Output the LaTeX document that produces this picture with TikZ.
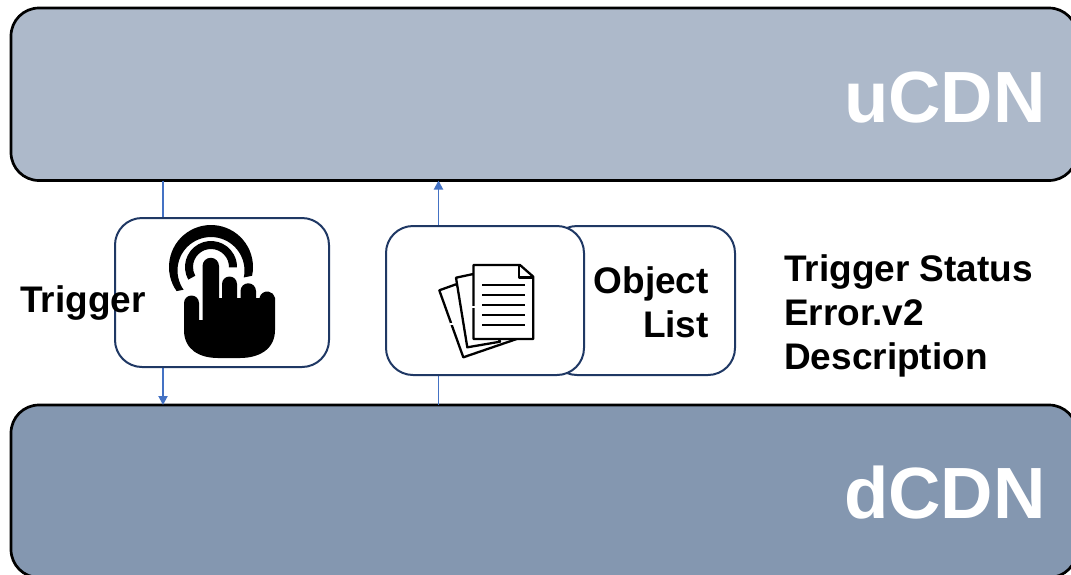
\documentclass[tikz,border=0pt]{standalone}
\usepackage{fontspec}
\setmainfont{Liberation Sans}
\usetikzlibrary{arrows.meta}
\definecolor{topband}{HTML}{ADB9CA}
\definecolor{lowband}{HTML}{8497B0}
\definecolor{cardedge}{HTML}{1F3864}
\definecolor{linkblue}{HTML}{4472C4}
\tikzset{
  x=1pt,y=1pt,
  band/.style={draw=black,line width=2.7pt,rounded corners=28pt,minimum width=1066pt,minimum height=172.5pt,inner sep=0pt,outer sep=0pt},
  card/.style={draw=cardedge,fill=white,line width=2pt,rounded corners=27pt,inner sep=0pt,outer sep=0pt},
  bigtext/.style={text=white,font=\bfseries\fontsize{72.6}{72}\selectfont,inner sep=0pt,anchor=base east},
  lab/.style={font=\bfseries\fontsize{37}{44.3}\selectfont,inner sep=0pt},
  link/.style={draw=linkblue,line width=1.9pt,-{Triangle[length=9pt,width=9pt]}},
  page/.style={draw=black,line width=2.3pt,line join=round,fill=white},
  rule/.style={draw=black,line width=2.2pt},
}
\def\handshape{
  (184,-303) arc (180:0:7.5) -- (199,-320) -- (202.5,-320) -- (202.5,-266) arc (180:0:8.25) -- (219,-298)
  -- (222,-298) -- (222,-284) arc (180:0:7.5) -- (237,-298) -- (240.5,-298) -- (240.5,-291) arc (180:0:7.75)
  -- (256,-298) -- (259.5,-298) arc (170:10:7.9) -- (275,-330) .. controls (275,-350) and (258,-358) .. (240,-358)
  -- (218,-358) .. controls (200,-358) and (184,-350) .. (184,-330) -- cycle}
\begin{document}
\begin{tikzpicture}
\useasboundingbox (0,0) rectangle (1071,-574);
\node[band,fill=topband] (ucdn) at (544,-94.25) {};
\node[band,fill=lowband] (dcdn) at (544,-491.25) {};
\node[bigtext] (ulabel) at (1046,-122) {uCDN};
\node[bigtext] (dlabel) at (1046,-518) {dCDN};
\coordinate (leftx) at (163,0);
\coordinate (midx) at (438.5,0);
\draw[link] (ucdn.south -| leftx) -- (dcdn.north -| leftx);
\draw[link] (dcdn.north -| midx) -- (ucdn.south -| midx);
\node[card,minimum width=214pt,minimum height=149pt] (trigbox) at (222,-292.5) {};
\node[card,minimum width=185pt,minimum height=149pt] (listback) at (642.5,-300.5) {};
\node[card,minimum width=198pt,minimum height=149pt] (listfront) at (485,-300.5) {};
\node[lab,anchor=base west] (trigtext) at (20,-312) {Trigger};
\node[lab,anchor=north east,align=right] (listtext) at (709,-266) {Object\\List};
\node[lab,anchor=north west,align=left] (statustext) at (784,-254) {Trigger Status\\Error.v2\\Description};
% hand icon
\fill[black] (211,-267) ++(215:42) arc (215:-12:42) -- ++(192:8.5) arc (-12:215:33.5) -- cycle;
\fill[black] (211,-267) ++(209:26) arc (209:-1:26) -- ++(179:8) arc (-1:209:18) -- cycle;
\path[draw=white,line width=4.5pt,line join=round] \handshape;
\fill[black] \handshape;
% document icon
\path[page] (439.3,-290.3) -- (456,-284.3) -- (516.7,-339) -- (463.3,-357.3) -- cycle;
\path[page] (456,-277.7) -- (473.3,-274) -- (500,-341.7) -- (467.3,-347.3) -- cycle;
\path[page] (473.5,-265) -- (520,-265) -- (533.3,-276.7) -- (533.3,-339) -- (473.5,-339) -- cycle;
\path[rule,line join=round] (519,-265) -- (519,-277.5) -- (533.3,-277.5);
\foreach \yy in {285,295,305,315,325} \draw[rule] (482,-\yy) -- (524.5,-\yy);
\fill[white] (472,-308) rectangle (475,-306);
\fill[white] (449.5,-325) rectangle (453,-323);
\end{tikzpicture}
\end{document}
